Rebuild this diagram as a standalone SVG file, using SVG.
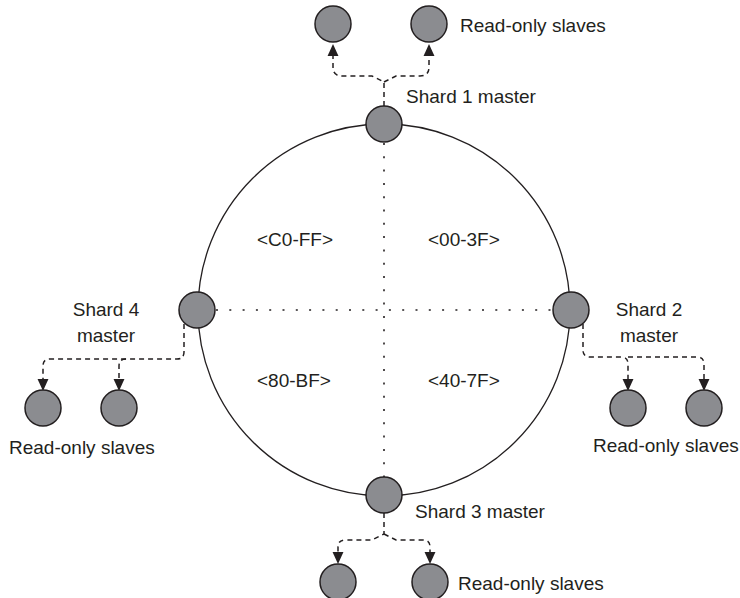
<svg xmlns="http://www.w3.org/2000/svg" width="740" height="598" viewBox="0 0 740 598">
<style>
.node{fill:#8b8c90;stroke:#231f20;stroke-width:1.5}
.ring{fill:none;stroke:#231f20;stroke-width:1.3}
.dot{fill:none;stroke:#231f20;stroke-width:1.6;stroke-dasharray:2 11.3}
.dash{fill:none;stroke:#231f20;stroke-width:1.5;stroke-dasharray:5 4}
text{font-family:"Liberation Sans",Arial,sans-serif;font-size:19px;fill:#231f20}
.mid{text-anchor:middle}
</style>
<defs>
<marker id="arr" markerUnits="userSpaceOnUse" markerWidth="12" markerHeight="12" refX="0" refY="5" orient="auto" viewBox="0 0 11 10">
<path d="M0,0 L11,5 L0,10 Z" fill="#231f20" stroke="none"/>
</marker>
</defs>
<rect width="740" height="598" fill="#ffffff"/>
<g id="ring">
<circle class="ring" cx="384" cy="310" r="186"/>
</g>
<g id="connectors">
<path class="dot" d="M384,143 V477"/>
<path class="dot" d="M216,310 H553"/>
<!-- shard 1 -->
<path class="dash" marker-end="url(#arr)" d="M384,106 V82 L372,76 H342 Q333,76 333,67 V56"/>
<path class="dash" marker-end="url(#arr)" d="M384,82 L396,76 H420 Q429,76 429,67 V56"/>
<!-- shard 2 -->
<path class="dash" marker-end="url(#arr)" d="M583,324 V350 Q583,357 590,357 H621 Q628,357 628,364 V379"/>
<path class="dash" marker-end="url(#arr)" d="M628,357 H697 Q704,357 704,364 V379"/>
<!-- shard 3 -->
<path class="dash" marker-end="url(#arr)" d="M384,513 V534 L372,540 H345 Q338,540 338,547 V552"/>
<path class="dash" marker-end="url(#arr)" d="M384,534 L396,540 H423 Q430,540 430,547 V552"/>
<!-- shard 4 -->
<path class="dash" marker-end="url(#arr)" d="M184,324 V352 Q184,359 177,359 H50 Q43,359 43,366 V379"/>
<path class="dash" marker-end="url(#arr)" d="M126,359 Q119,359 119,366 V379"/>
</g>
<g id="quadrants">
<text x="257" y="246">&lt;C0-FF&gt;</text>
<text x="428" y="246">&lt;00-3F&gt;</text>
<text x="257" y="387">&lt;80-BF&gt;</text>
<text x="428" y="387">&lt;40-7F&gt;</text>
</g>
<g id="shard1">
<circle class="node" cx="384" cy="124" r="18"/>
<text x="406" y="103">Shard 1 master</text>
</g>
<g id="shard1-slaves">
<circle class="node" cx="333" cy="24" r="18"/>
<circle class="node" cx="429" cy="24" r="18"/>
<text x="460" y="32">Read-only slaves</text>
</g>
<g id="shard2">
<circle class="node" cx="571" cy="310" r="18"/>
<text class="mid" x="649" y="316">Shard 2</text>
<text class="mid" x="649" y="342">master</text>
</g>
<g id="shard2-slaves">
<circle class="node" cx="628" cy="408" r="18"/>
<circle class="node" cx="704" cy="408" r="18"/>
<text x="593" y="452">Read-only slaves</text>
</g>
<g id="shard3">
<circle class="node" cx="384" cy="495" r="18"/>
<text x="415" y="518">Shard 3 master</text>
</g>
<g id="shard3-slaves">
<circle class="node" cx="338" cy="582" r="18"/>
<circle class="node" cx="430" cy="582" r="18"/>
<text x="458" y="590">Read-only slaves</text>
</g>
<g id="shard4">
<circle class="node" cx="197" cy="310" r="18"/>
<text class="mid" x="106" y="316">Shard 4</text>
<text class="mid" x="106" y="342">master</text>
</g>
<g id="shard4-slaves">
<circle class="node" cx="43" cy="408" r="18"/>
<circle class="node" cx="119" cy="408" r="18"/>
<text x="9" y="454">Read-only slaves</text>
</g>
</svg>
